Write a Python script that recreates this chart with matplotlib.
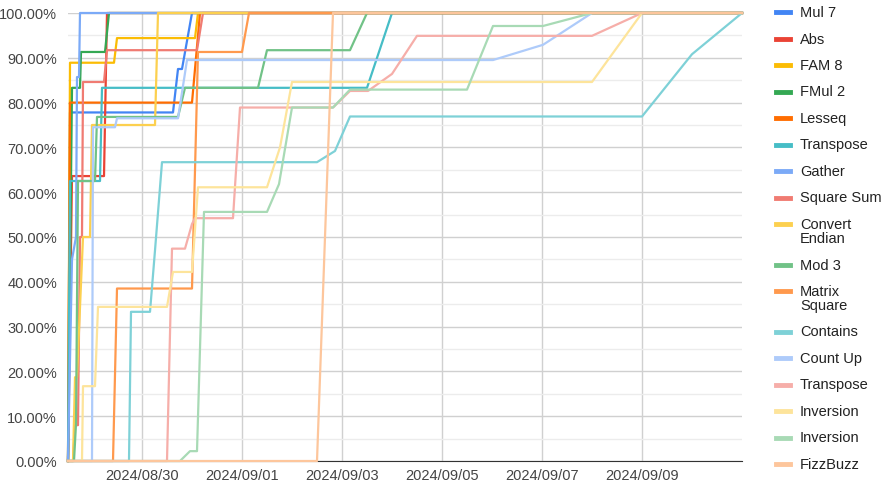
import matplotlib.pyplot as plt
import matplotlib.dates as mdates
import pandas as pd

plt.rcParams['font.family'] = ['Liberation Sans', 'DejaVu Sans']

# day offsets since 2024-08-28 00:00, and pass rate in %
start = pd.Timestamp('2024-08-28')
x_left, x_right = 0.52, 14.0

names = ['Mul 7', 'Abs', 'FAM 8', 'FMul 2', 'Lesseq', 'Transpose', 'Gather', 'Square Sum',
         'Convert\nEndian', 'Mod 3', 'Matrix\nSquare', 'Contains', 'Count Up', 'Transpose',
         'Inversion', 'Inversion', 'FizzBuzz']
colors = ['#4285F4', '#EA4335', '#FBBC04', '#34A853', '#FF6D01', '#46BDC6', '#7BAAF7', '#F07B72',
          '#FCD04F', '#71C287', '#FF994D', '#7ED1D7', '#AECBFA', '#F6AEA9', '#FDE49B', '#A8DAB5',
          '#FDC69C']

mul7_t = [0.56, 2.62, 2.72, 2.80, 3.00]
mul7_v = [77.8, 77.8, 87.5, 87.5, 100]
abs_t = [0.60, 1.24, 1.30]
abs_v = [63.6, 63.6, 100]
fam8_t = [0.56, 1.44, 1.50, 3.06, 3.12]
fam8_v = [88.9, 88.9, 94.4, 94.4, 100]
fmul2_t = [0.60, 0.76, 0.78, 1.26, 1.34]
fmul2_v = [83.3, 83.3, 91.3, 91.3, 100]
lesseq_t = [0.56, 3.00, 3.16]
lesseq_v = [80, 80, 100]
transpose_t = [0.56, 1.16, 1.20, 6.50, 7.00]
transpose_v = [62.5, 62.5, 83.3, 83.3, 100]
gather_t = [0.60, 0.68, 0.70, 0.74, 0.76]
gather_v = [45, 50, 85.7, 85.7, 100]
sqsum_t = [0.62, 0.66, 0.72, 0.76, 0.80, 0.82, 1.24, 1.30, 3.10, 3.22]
sqsum_v = [0, 8, 8, 50, 50, 84.6, 84.6, 91.7, 91.7, 100]
endian_t = [0.62, 0.66, 0.70, 0.82, 0.96, 1.00, 2.26, 2.32]
endian_v = [0, 18.7, 18.7, 50, 50, 75, 75, 100]
mod3_t = [0.64, 0.68, 0.72, 1.06, 1.10, 2.72, 2.86, 4.32, 4.50, 6.16, 6.50]
mod3_v = [0, 8.3, 62.5, 62.5, 76.8, 76.8, 83.3, 83.3, 91.7, 91.7, 100]
matsq_t = [1.42, 1.50, 3.00, 3.12, 4.00, 4.14]
matsq_v = [0, 38.5, 38.5, 91.3, 91.3, 100]
contains_t = [1.74, 1.78, 2.16, 2.26, 2.40, 5.50, 5.86, 6.16, 12.00, 13.00]
contains_v = [0, 33.3, 33.3, 47, 66.7, 66.7, 69.2, 76.9, 76.9, 90.8]
countup_t = [1.00, 1.02, 1.46, 1.50, 2.72, 2.90, 9.02, 10.02, 11.00]
countup_v = [0, 74.5, 74.5, 76.5, 76.5, 89.5, 89.5, 92.9, 100]
transpose2_t = [2.50, 2.60, 2.86, 3.00, 3.06, 3.82, 3.96, 5.82, 6.16, 6.52, 7.00, 7.50, 11.00, 12.00]
transpose2_v = [0, 47.4, 47.4, 52.9, 54.2, 54.2, 78.9, 78.9, 82.6, 82.6, 86.4, 94.9, 94.9, 100]
inv1_t = [0.80, 0.82, 1.06, 1.12, 2.50, 2.62, 3.00, 3.12, 4.50, 4.76, 5.00, 11.00, 12.00]
inv1_v = [0, 16.7, 16.7, 34.4, 34.4, 42.2, 42.2, 61.1, 61.1, 70, 84.6, 84.6, 100]
inv2_t = [2.76, 2.96, 3.10, 3.24, 4.50, 4.74, 5.00, 5.82, 6.16, 8.50, 9.02, 10.02, 11.00]
inv2_v = [0, 2.2, 2.2, 55.6, 55.6, 61.8, 78.9, 78.9, 82.9, 82.9, 97.1, 97.1, 100]
fizz_t = [5.50, 5.82]
fizz_v = [0, 100]

series = [(mul7_t, mul7_v), (abs_t, abs_v), (fam8_t, fam8_v), (fmul2_t, fmul2_v),
          (lesseq_t, lesseq_v), (transpose_t, transpose_v), (gather_t, gather_v),
          (sqsum_t, sqsum_v), (endian_t, endian_v), (mod3_t, mod3_v), (matsq_t, matsq_v),
          (contains_t, contains_v), (countup_t, countup_v), (transpose2_t, transpose2_v),
          (inv1_t, inv1_v), (inv2_t, inv2_v), (fizz_t, fizz_v)]

W, H = 888, 485
fig = plt.figure(figsize=(W / 100, H / 100), dpi=100)
ax = fig.add_axes([68 / W, 1 - 462 / H, (742 - 68) / W, (462 - 14) / H])

for (t, v), c in zip(series, colors):
    days = [x_left] + t + [x_right]
    vals = [0] + v + [100]
    dates = start + pd.to_timedelta(days, unit='D')
    ax.plot(dates, vals, color=c, linewidth=1.6, clip_on=False, zorder=3)

ax.set_xlim(start + pd.Timedelta(days=x_left), start + pd.Timedelta(days=x_right))
ax.set_ylim(0, 100)

tick_dates = pd.date_range('2024-08-30', '2024-09-09', freq='2D')
ax.set_xticks(tick_dates)
ax.xaxis.set_major_formatter(mdates.DateFormatter('%Y/%m/%d'))
ax.set_yticks(range(0, 101, 10))
ax.set_yticks(range(5, 100, 10), minor=True)
ax.set_yticklabels([f'{v:.2f}%' for v in range(0, 101, 10)])
ax.tick_params(axis='both', length=0, labelsize=10.5, colors='#444444')
ax.tick_params(axis='y', pad=8)
ax.tick_params(axis='x', pad=5)
ax.tick_params(axis='y', which='minor', length=0)

ax.grid(True, which='major', axis='both', color='#d0d0d0', linewidth=1)
ax.grid(True, which='minor', axis='y', color='#ececec', linewidth=1)
ax.set_axisbelow(True)
for s in ['top', 'right', 'left']:
    ax.spines[s].set_visible(False)
ax.spines['bottom'].set_color('#333333')

# legend on the right, wrapped labels take an extra line
y = 13
for name, c in zip(names, colors):
    fy = 1 - y / H
    fig.add_artist(plt.Line2D([776 / W, 790 / W], [fy, fy], color=c, linewidth=3.5,
                              transform=fig.transFigure))
    for k, part in enumerate(name.split('\n')):
        fig.text(800 / W, 1 - (y + 14 * k) / H, part, fontsize=10.5, color='#222222',
                 va='center', transform=fig.transFigure)
    y += 26.5 + 14 * name.count('\n')

plt.savefig('out.png', dpi=100)
